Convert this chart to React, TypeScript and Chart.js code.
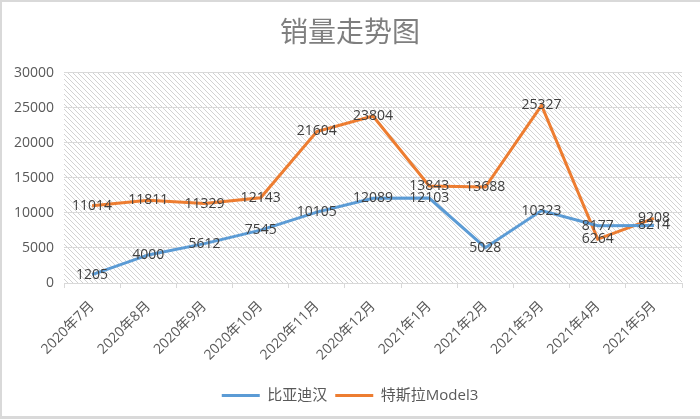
import { useEffect, useRef } from "react";
import { Chart, registerables, Plugin } from "chart.js";

Chart.register(...registerables);

const months = [
  "2020年7月",
  "2020年8月",
  "2020年9月",
  "2020年10月",
  "2020年11月",
  "2020年12月",
  "2021年1月",
  "2021年2月",
  "2021年3月",
  "2021年4月",
  "2021年5月",
];
const bydHan = [1205, 4000, 5612, 7545, 10105, 12089, 12103, 5028, 10323, 8177, 8214];
const teslaModel3 = [11014, 11811, 11329, 12143, 21604, 23804, 13843, 13688, 25327, 6264, 9208];
const yTicks = [0, 5000, 10000, 15000, 20000, 25000, 30000];

const FONT = "'Open Sans', 'Noto Sans CJK SC', sans-serif";

const makeHatch = (): CanvasPattern | string => {
  const tile = document.createElement("canvas");
  tile.width = 5;
  tile.height = 5;
  const c = tile.getContext("2d");
  if (!c) return "#fff";
  c.fillStyle = "#ffffff";
  c.fillRect(0, 0, 5, 5);
  c.strokeStyle = "#d2d2d2";
  c.lineWidth = 1;
  c.beginPath();
  c.moveTo(-1, -1);
  c.lineTo(6, 6);
  c.moveTo(-1, 4);
  c.lineTo(1, 6);
  c.moveTo(4, -1);
  c.lineTo(6, 1);
  c.stroke();
  const p = c.createPattern(tile, "repeat");
  return p || "#fff";
};

const backdrop: Plugin = {
  id: "backdrop",
  beforeDraw(chart) {
    const { ctx, chartArea, width, height } = chart;
    ctx.save();
    ctx.fillStyle = "#ffffff";
    ctx.fillRect(0, 0, width, height);
    ctx.fillStyle = makeHatch();
    ctx.fillRect(chartArea.left, chartArea.top, chartArea.right - chartArea.left, chartArea.bottom - chartArea.top);
    ctx.fillStyle = "#d9d9d9";
    ctx.fillRect(0, 0, width, 2);
    ctx.fillRect(0, 0, 2, height);
    ctx.fillRect(0, height - 3, width, 3);
    ctx.restore();
  },
};

const pointLabels: Plugin = {
  id: "pointLabels",
  afterDatasetsDraw(chart) {
    const { ctx } = chart;
    ctx.save();
    ctx.font = `14px ${FONT}`;
    ctx.fillStyle = "#404040";
    ctx.textAlign = "center";
    ctx.textBaseline = "middle";
    chart.data.datasets.forEach((ds, i) => {
      const meta = chart.getDatasetMeta(i);
      meta.data.forEach((pt, j) => {
        ctx.fillText(String(ds.data[j]), pt.x, pt.y);
      });
    });
    ctx.restore();
  },
};

const App = () => {
  const canvasRef = useRef<HTMLCanvasElement | null>(null);

  useEffect(() => {
    document.body.style.margin = "0";
    if (!canvasRef.current) return;
    const chart = new Chart(canvasRef.current, {
      type: "line",
      data: {
        labels: months,
        datasets: [
          {
            label: "比亚迪汉",
            data: bydHan,
            borderColor: "#5b9bd5",
            backgroundColor: "#5b9bd5",
            borderWidth: 3,
            pointRadius: 0,
            pointStyle: "line",
            tension: 0,
          },
          {
            label: "特斯拉Model3",
            data: teslaModel3,
            borderColor: "#ed7d31",
            backgroundColor: "#ed7d31",
            borderWidth: 3,
            pointRadius: 0,
            pointStyle: "line",
            tension: 0,
          },
        ],
      },
      options: {
        animation: false,
        responsive: false,
        devicePixelRatio: 1,
        layout: { padding: { left: 9, right: 9, top: 0, bottom: 6 } },
        plugins: {
          title: {
            display: true,
            text: "销量走势图",
            color: "#7f7f7f",
            font: { family: FONT, size: 28, weight: "normal" },
            padding: { top: 17, bottom: 22 },
          },
          legend: {
            position: "bottom",
            labels: {
              usePointStyle: true,
              pointStyleWidth: 38,
              color: "#595959",
              font: { family: FONT, size: 15 },
              padding: 8,
            },
          },
          tooltip: { enabled: false },
        },
        scales: {
          x: {
            offset: true,
            grid: { offset: true, drawOnChartArea: false, drawTicks: true, tickLength: 5, color: "#d9d9d9" },
            border: { display: true, color: "#d9d9d9" },
            ticks: {
              color: "#595959",
              font: { family: FONT, size: 14 },
              minRotation: 45,
              maxRotation: 45,
              autoSkip: false,
              padding: 10,
            },
            afterFit: (scale) => {
              scale.height = 97;
            },
          },
          y: {
            min: 0,
            max: 30000,
            afterBuildTicks: (scale) => {
              scale.ticks = yTicks.map((v) => ({ value: v }));
            },
            grid: { color: "#d9d9d9", drawTicks: false },
            border: { display: false },
            ticks: {
              color: "#595959",
              font: { family: FONT, size: 14 },
              padding: 10,
              callback: (v) => String(v),
            },
            afterFit: (scale) => {
              scale.width = 55;
            },
          },
          yRight: {
            position: "right",
            display: true,
            grid: { display: false },
            border: { display: false },
            ticks: { display: false },
            afterFit: (scale) => {
              scale.width = 9;
            },
          },
        },
      },
      plugins: [backdrop, pointLabels],
    });
    return () => {
      chart.destroy();
    };
  }, []);

  return <canvas ref={canvasRef} width={700} height={419} style={{ display: "block" }} />;
};

export default App;
